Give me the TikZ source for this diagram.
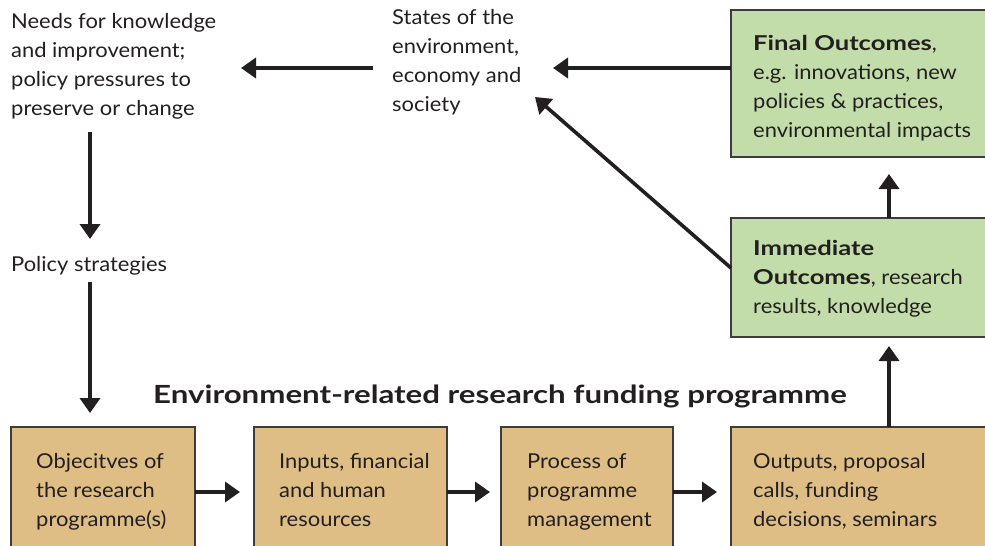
\documentclass[tikz,border=0pt]{standalone}
\usepackage{fontspec}
\setmainfont{Lato}[FakeStretch=1.07]
\newfontfamily\headfont{Lato}[FakeStretch=1.25]
\usetikzlibrary{arrows.meta}

\definecolor{ink}{HTML}{231F20}
\definecolor{edge}{HTML}{3C3C3C}
\definecolor{outgreen}{HTML}{C2DDA9}
\definecolor{progtan}{HTML}{DEBE85}

\newcommand\txtlines[1]{\begin{tabular}[t]{@{}l@{}}#1\end{tabular}}
\newcommand\headbold[1]{{\headfont\bfseries #1}}

\tikzset{
  body/.style={font=\fontsize{20.5}{29}\selectfont, text=ink, inner sep=0pt, anchor=base west},
  greenbox/.style={draw=edge, line width=1.4pt, fill=outgreen},
  tanbox/.style={draw=edge, line width=1.4pt, fill=progtan},
  arr/.style={draw=ink, line width=3.6pt, -{Triangle[width=20pt,length=15pt]}},
}

\begin{document}
\begin{tikzpicture}[x=1pt, y=-1pt]
  \useasboundingbox (0,0) rectangle (985,546);
  \clip (0,0) rectangle (985,546);

  % outcome boxes on the right
  \path[greenbox] (731,10) rectangle (995,157);
  \path[greenbox] (731,218) rectangle (995,337);

  % programme boxes along the bottom
  \path[tanbox] (11,427) rectangle (195,556);
  \path[tanbox] (254,427) rectangle (447,556);
  \path[tanbox] (501,427) rectangle (673,556);
  \path[tanbox] (731,427) rectangle (995,556);

  % texts
  \node[body] (needs) at (11,28) {\txtlines{Needs for knowledge\\and improvement;\\policy pressures to\\preserve or change}};
  \node[body] (states) at (392,24) {\txtlines{States of the\\environment,\\economy and\\society}};
  \node[body] (finaltxt) at (753,50) {\txtlines{\headbold{Final Outcomes},\\e.g. innovations, new\\policies \& practices,\\environmental impacts}};
  \node[body] (immtxt) at (753,255) {\txtlines{\headbold{Immediate}\\\headbold{Outcomes}, research\\results, knowledge}};
  \node[body] (policy) at (11,271) {Policy strategies};
  \node[font=\fontsize{25}{30}\selectfont\headfont\bfseries, text=ink, inner sep=0pt, anchor=base] (title) at (500,403) {Environment-related research funding programme};
  \node[body] (obj) at (36,468) {\txtlines{Objecitves of\\the research\\programme(s)}};
  \node[body] (inputs) at (279,468) {\txtlines{Inputs, financial\\and human\\resources}};
  \node[body] (process) at (527,468) {\txtlines{Process of\\programme\\management}};
  \node[body] (outputs) at (753,468) {\txtlines{Outputs, proposal\\calls, funding\\decisions, seminars}};

  % connector end points
  \coordinate (finalW) at (731,68);
  \coordinate (statesE) at (553,68);
  \coordinate (statesW) at (373,68);
  \coordinate (needsE) at (241,68);
  \coordinate (immW) at (731,268);
  \coordinate (statesSE) at (535,97);
  \coordinate (immN) at (889,218);
  \coordinate (finalS) at (889,174);
  \coordinate (outN) at (889,427);
  \coordinate (immS) at (889,346);
  \coordinate (needsS) at (90,132);
  \coordinate (policyN) at (90,239);
  \coordinate (policyS) at (90,282);
  \coordinate (objN) at (90,413);
  \coordinate (objE) at (195,492);
  \coordinate (inputsW) at (240,492);
  \coordinate (inputsE) at (447,492);
  \coordinate (processW) at (490,492);
  \coordinate (processE) at (673,492);
  \coordinate (outputsW) at (717,492);

  \draw[arr] (finalW) -- (statesE);
  \draw[arr] (statesW) -- (needsE);
  \draw[arr] (immW) -- (statesSE);
  \draw[arr] (immN) -- (finalS);
  \draw[arr] (outN) -- (immS);
  \draw[arr] (needsS) -- (policyN);
  \draw[arr] (policyS) -- (objN);
  \draw[arr] (objE) -- (inputsW);
  \draw[arr] (inputsE) -- (processW);
  \draw[arr] (processE) -- (outputsW);
\end{tikzpicture}
\end{document}
